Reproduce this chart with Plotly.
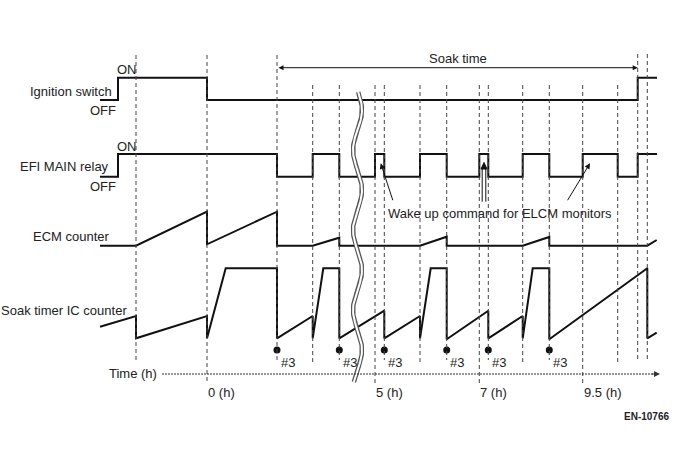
import numpy as np
import plotly.graph_objects as go

# ---------------- data (diagram positions) ----------------
# Ignition switch: start OFF, toggles at these times
ign_start, ign_end = 100, 657
ign_edges = [118, 207, 637.7]
# EFI MAIN relay: start OFF, toggles at these times
relay_start, relay_end = 100, 657
relay_edges = [118, 277, 312.7, 339.3, 375, 384.3, 420, 446.7, 479.3, 488.3,
               522.7, 549.3, 582.7, 617.7, 637.7]
# ECM counter (value above its baseline)
ecm_x = [100, 136, 207, 207, 277, 277, 312.7, 339.3, 339.3, 420, 446.7, 446.7,
         522.7, 549.3, 549.3, 647.3, 656.7]
ecm_v = [0, 0, 34, 1.4, 34, 0, 0, 8, 0, 0, 9, 0, 0, 8.7, 0, 0, 5.7]
# Soak timer IC counter (value above its baseline)
soak_x = [100, 136, 136, 207, 207, 225.7, 277, 277, 312.7, 312.7, 323.3, 339.3,
          339.3, 384.3, 384.3, 420, 420, 430.7, 446.7, 446.7, 488.3, 488.3,
          522.7, 522.7, 532.7, 549.3, 549.3, 647.3, 647.3, 656.7]
soak_v = [11.6, 22.3, 0, 22.3, 0, 70, 70, 0, 22.3, 0, 70, 70, 0, 27.6, 0, 22.3,
          0, 70, 70, -1, 27.6, 0, 22.3, 0, 70, 70, -1, 70, 0, 5.6]
# Vertical dashed event lines
dash_x = [136, 207, 277, 312.7, 339.3, 375, 384.3, 420, 446.7, 479.3, 488.3,
          522.7, 549.3, 582.7, 617.7, 637.7, 647.3]
dash_top = [55, 55, 55, 85, 85, 85, 85, 85, 85, 85, 85, 85, 85, 85, 85, 54, 54]
dash_bot = [362, 383, 360, 362, 360, 383, 360, 362, 360, 383, 360, 362, 360,
            383, 362, 362, 362]
# "#3" events
mark_x = [277, 339.3, 384.3, 446.7, 488.3, 549.3]
# Time ticks
tick_x = [207, 375, 479.3, 582.7]
tick_labels = ["0 (h)", "5 (h)", "7 (h)", "9.5 (h)"]
soak_from, soak_to = 277, 637.7

# ---------------- layout constants ----------------
W, H = 688, 463
IGN_ON, IGN_OFF = 77.7, 100
REL_ON, REL_OFF = 154, 176.7
ECM_BASE = 245.7
SOAK_BASE = 338.3
MARK_Y = 350
TIME_Y = 374
FONT = "Liberation Sans, Arial, sans-serif"
INK = "#111111"
TXT = "#222222"


def steps(x0, x1, edges, lo, hi):
    xs, ys = [x0], [lo]
    cur, other = lo, hi
    for e in edges:
        xs += [e, e]
        ys += [cur, other]
        cur, other = other, cur
    xs.append(x1)
    ys.append(cur)
    return xs, ys


fig = go.Figure()

# dashed verticals
for x, t, b in zip(dash_x, dash_top, dash_bot):
    fig.add_shape(type="line", x0=x, x1=x, y0=t, y1=b,
                  line=dict(color="#444444", width=1, dash="4px,3px"))

# time axis (dotted)
fig.add_shape(type="line", x0=162, x1=654, y0=TIME_Y, y1=TIME_Y,
              line=dict(color="#333333", width=1.2, dash="2px,1px"))
fig.add_annotation(x=660, y=TIME_Y, ax=650, ay=TIME_Y, axref="x", ayref="y",
                   xref="x", yref="y", text="", showarrow=True, arrowhead=2,
                   arrowsize=1, arrowwidth=1.2, arrowcolor="#333333", standoff=0)

# signals
xi, yi = steps(ign_start, ign_end, ign_edges, IGN_OFF, IGN_ON)
xr, yr = steps(relay_start, relay_end, relay_edges, REL_OFF, REL_ON)
line_style = dict(color=INK, width=2)
fig.add_trace(go.Scatter(x=xi, y=yi, mode="lines", line=line_style, hoverinfo="skip"))
fig.add_trace(go.Scatter(x=xr, y=yr, mode="lines", line=line_style, hoverinfo="skip"))
fig.add_trace(go.Scatter(x=ecm_x, y=[ECM_BASE - v for v in ecm_v], mode="lines",
                         line=line_style, hoverinfo="skip"))
fig.add_trace(go.Scatter(x=soak_x, y=[SOAK_BASE - v for v in soak_v], mode="lines",
                         line=line_style, hoverinfo="skip"))

# #3 markers
fig.add_trace(go.Scatter(x=mark_x, y=[MARK_Y] * len(mark_x), mode="markers",
                         marker=dict(color=INK, size=7), hoverinfo="skip"))
for x in mark_x:
    fig.add_annotation(x=x + 1.5, y=362.5, text="#3", showarrow=False,
                       xanchor="left", yanchor="middle",
                       font=dict(family=FONT, size=13, color=TXT))

# wave break (double line)
wy = np.linspace(92, 382, 240)
wx = 357.5 + 4.5 * np.cos(2 * np.pi * (wy - 190) / 80)
fig.add_trace(go.Scatter(x=wx, y=wy, mode="lines", line=dict(color="#555555", width=4.5),
                         hoverinfo="skip"))
fig.add_trace(go.Scatter(x=wx, y=wy, mode="lines", line=dict(color="white", width=2),
                         hoverinfo="skip"))

# soak time arrow
fig.add_annotation(x=soak_to, y=67.7, ax=soak_from, ay=67.7, axref="x", ayref="y",
                   text="", showarrow=True, arrowhead=2, arrowside="end+start",
                   arrowsize=1, arrowwidth=1, arrowcolor=INK, standoff=0,
                   startstandoff=0, startarrowhead=2, startarrowsize=1)
fig.add_annotation(x=458, y=58, text="Soak time", showarrow=False,
                   font=dict(family=FONT, size=13, color=TXT))

# wake up command arrows
for (tx, ty, sx, sy) in [(380.7, 163.3, 393.3, 201.7), (590, 163.3, 566.7, 201.7)]:
    fig.add_annotation(x=tx, y=ty, ax=sx, ay=sy, axref="x", ayref="y", text="",
                       showarrow=True, arrowhead=2, arrowsize=1.1, arrowwidth=1,
                       arrowcolor=INK, standoff=0)
for xx in (482.2, 485.8):
    fig.add_shape(type="line", x0=xx, x1=xx, y0=201.7, y1=167,
                  line=dict(color=INK, width=1))
fig.add_trace(go.Scatter(x=[481, 484, 487, 481], y=[169, 162.5, 169, 169], mode="lines",
                         fill="toself", fillcolor=INK, line=dict(color=INK, width=1),
                         hoverinfo="skip"))
fig.add_annotation(x=500, y=213.3, text="Wake up command for ELCM monitors",
                   showarrow=False, font=dict(family=FONT, size=13, color=TXT))

# row labels
labels = [
    ("Ignition switch", 113.5, 91.7, "right"),
    ("ON", 115, 69.3, "left"),
    ("OFF", 117.5, 110, "right"),
    ("EFI MAIN relay", 110.5, 166.7, "right"),
    ("ON", 115, 146, "left"),
    ("OFF", 117.5, 186.7, "right"),
    ("ECM counter", 112, 236.7, "right"),
    ("Soak timer IC counter", 128.5, 310, "right"),
    ("Time (h)", 158.5, 373, "right"),
]
for txt, x, y, anc in labels:
    fig.add_annotation(x=x, y=y, text=txt, showarrow=False, xanchor=anc,
                       yanchor="middle", font=dict(family=FONT, size=13, color=TXT))

for x, lab in zip(tick_x, tick_labels):
    fig.add_annotation(x=x - 1, y=392.5, text=lab, showarrow=False, xanchor="left",
                       yanchor="middle", font=dict(family=FONT, size=13, color=TXT))

fig.add_annotation(x=671, y=416, text="<b>EN-10766</b>", showarrow=False,
                   xanchor="right", yanchor="middle",
                   font=dict(family=FONT, size=10, color=TXT))

fig.update_layout(
    width=W, height=H,
    margin=dict(l=0, r=0, t=0, b=0),
    paper_bgcolor="white", plot_bgcolor="white", showlegend=False,
    hovermode=False,
    xaxis=dict(range=[0, W], visible=False, fixedrange=True),
    yaxis=dict(range=[H, 0], visible=False, fixedrange=True),
)

# remove the default 8px page margin so the figure fills the window exactly
fig.write_html(
    "out.html",
    config={"displayModeBar": False, "staticPlot": True},
    post_script="document.body.style.margin='0';document.body.style.overflow='hidden';",
)
